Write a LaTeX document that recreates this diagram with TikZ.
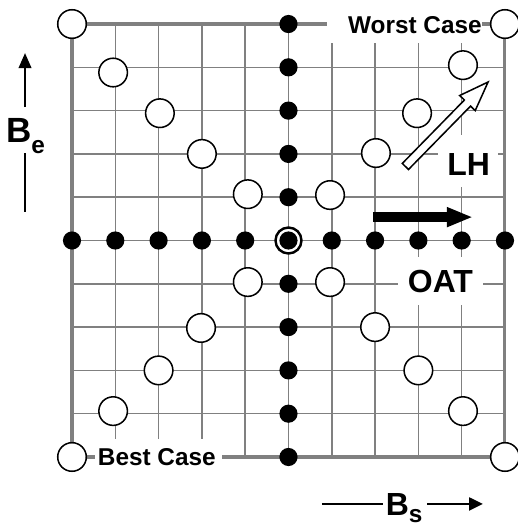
\documentclass[tikz,border=0pt]{standalone}
\usepackage{fontspec}
\setmainfont{Liberation Sans}
\usetikzlibrary{arrows.meta}

\begin{document}
\begin{tikzpicture}[
		gridline/.style={line width=1pt, color=black!50},
		frameline/.style={line width=2pt, color=black!50},
		opendot/.style={circle, draw, line width=1pt, fill=white, minimum size=0.66cm, inner sep=0pt},
		fulldot/.style={circle, fill=black, minimum size=0.42cm, inner sep=0pt},
		ringdot/.style={circle, draw, line width=1.6pt, fill=white, minimum size=0.6cm, inner sep=0pt},
		caselabel/.style={font=\fontsize{16}{19}\selectfont\bfseries, inner sep=0pt},
		biglabel/.style={font=\fontsize{21}{25}\selectfont\bfseries, inner sep=0pt},
		axisline/.style={line width=1.5pt},
	]
	%%%%% START %%%%%
	\useasboundingbox (-1.663, -1.617) rectangle (10.30, 10.555);
	
	\draw[gridline] (0, 0) grid (10, 10);
	\draw[frameline] (0, 0) rectangle (10, 10);
	
	% white patches behind the labels
	\fill[white] (5.9, 9.57) rectangle (9.47, 10.4);
	\fill[white] (0.53, -0.45) rectangle (3.46, 0.42);
	\fill[white] (8.45, 6.24) rectangle (9.84, 7.44);
	\fill[white] (7.53, 3.51) rectangle (9.49, 4.62);
	
	\node[caselabel] (worst) at (7.92, 9.98) {Worst Case};
	\node[caselabel] (best) at (1.96, 0.0) {Best Case};
	\node[biglabel] (lh) at (9.16, 6.75) {LH};
	\node[biglabel] (oat) at (8.51, 4.05) {OAT};
	
	% LH arrow
	\begin{scope}[shift={(7.70, 6.71)}, rotate=45.6]
		\draw[line width=1pt, fill=white] (0, -0.1) -- (2.05, -0.1) -- (2.05, -0.25) -- (2.73, 0) -- (2.05, 0.25) -- (2.05, 0.1) -- (0, 0.1) -- cycle;
	\end{scope}
	
	% OAT arrow
	\draw[line width=0.23cm, -{Triangle[length=0.6cm, width=0.42cm]}] (6.95, 5.54) -- (9.26, 5.54);
	
	% sampled points
	\foreach \p [count=\k] in {(0, 10), (0.95, 8.88), (2.03, 7.94), (3, 7), (4.06, 6.07),
		(5.96, 6.05), (7.02, 7.02), (7.97, 7.94), (9.03, 9.05), (10, 10),
		(4.06, 4.04), (2.98, 2.98), (2, 2), (0.95, 1.06), (0, 0),
		(5.96, 4.04), (7, 3), (8, 2), (9.03, 1.06), (10, 0)}
		\node[opendot] (o\k) at \p {};
	
	\foreach \i in {0, ..., 10} {
		\ifnum\i=5 \else
		\node[fulldot] (h\i) at (\i, 5) {};
		\node[fulldot] (v\i) at (5, \i) {};
		\fi
	}
	\node[ringdot] (mid) at (5, 5) {};
	\node[fulldot] (midcore) at (5, 5) {};
	
	% axes
	\node[anchor=base west, inner sep=0pt, font=\fontsize{23}{27}\selectfont\bfseries] (be) at (-1.53, 7.275) {B\raisebox{-7.5pt}{\fontsize{16}{19}\selectfont e}};
	\draw[axisline, -{Triangle[length=0.35cm, width=0.29cm]}] (-1.085, 8.08) -- (-1.085, 9.33);
	\draw[axisline] (-1.085, 7.02) -- (-1.085, 5.66);
	
	\node[anchor=base west, inner sep=0pt, font=\fontsize{21}{25}\selectfont\bfseries] (bs) at (7.24, -1.34) {B\raisebox{-5pt}{\fontsize{16}{19}\selectfont s}};
	\draw[axisline] (5.77, -1.085) -- (7.18, -1.085);
	\draw[axisline, -{Triangle[length=0.32cm, width=0.3cm]}] (8.20, -1.085) -- (9.49, -1.085);
	
	%%%%% END %%%%%
\end{tikzpicture}
\end{document}
